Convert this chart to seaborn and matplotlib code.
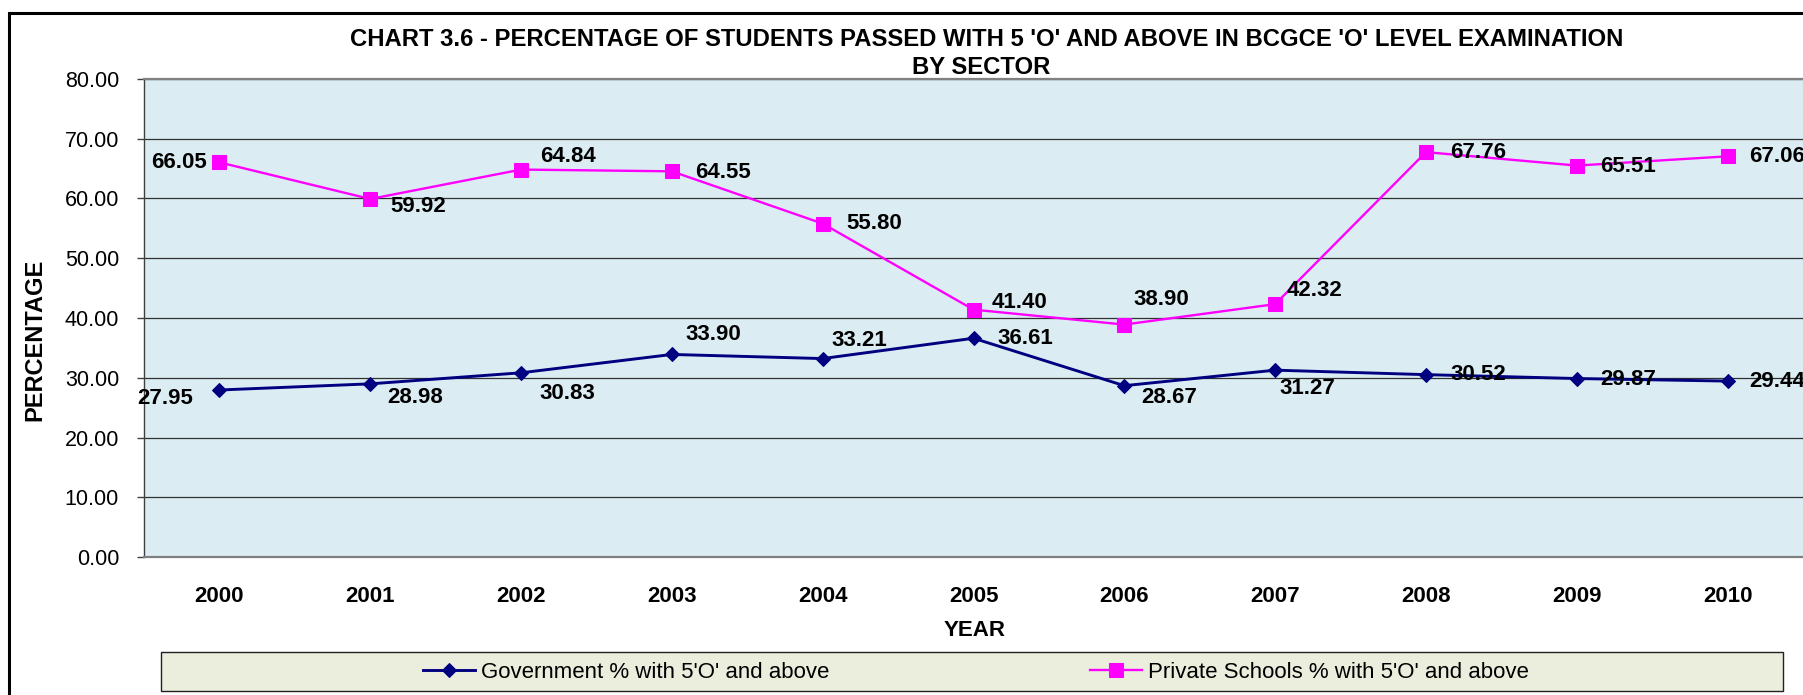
import matplotlib
matplotlib.use("Agg")
import matplotlib.pyplot as plt
import matplotlib.patches as mpatches
import seaborn as sns
import pandas as pd

plt.rcParams['font.family'] = ['Liberation Sans', 'DejaVu Sans']

# ---------------- data ----------------
years = [2000, 2001, 2002, 2003, 2004, 2005, 2006, 2007, 2008, 2009, 2010]
government = [27.95, 28.98, 30.83, 33.90, 33.21, 36.61, 28.67, 31.27, 30.52, 29.87, 29.44]
private = [66.05, 59.92, 64.84, 64.55, 55.80, 41.40, 38.90, 42.32, 67.76, 65.51, 67.06]
gov_label = "Government % with 5'O' and above"
priv_label = "Private Schools % with 5'O' and above"
title_line1 = "CHART 3.6 - PERCENTAGE OF STUDENTS PASSED WITH 5 'O' AND ABOVE IN BCGCE 'O' LEVEL EXAMINATION"
title_line2 = "BY SECTOR"
y_ticks = [0, 10, 20, 30, 40, 50, 60, 70, 80]

# label placement (pixel offsets: dx right, dy down) -- styling only
gov_offsets = [(-26, 9), (17, 14), (18, 21), (14, -20), (9, -18), (24, 0),
               (17, 12), (4, 18), (24, 0), (23, 1), (22, 0)]
priv_offsets = [(-13, 0), (20, 8), (19, -13), (23, 1), (24, 0), (18, -7),
                (9, -25), (11, -14), (24, 0), (23, 1), (22, 0)]

W, H = 1803, 695
fig = plt.figure(figsize=(W / 100, H / 100), dpi=100)
fig.patch.set_facecolor('white')

ax_l, ax_r, ax_t, ax_b = 144, 1803, 79, 557
ax = fig.add_axes([ax_l / W, (H - ax_b) / H, (ax_r - ax_l) / W, (ax_b - ax_t) / H])
ax.set_facecolor('#DBEDF3')

df = pd.DataFrame({'year': years, 'gov': government, 'priv': private})

sns.lineplot(data=df, x='year', y='gov', ax=ax, color='#000080', linewidth=2.1,
             marker='D', markersize=7, markeredgecolor='#000080',
             markerfacecolor='#000080', label=gov_label, zorder=4)
sns.lineplot(data=df, x='year', y='priv', ax=ax, color='#FF00FF', linewidth=1.7,
             marker='s', markersize=10.5, markeredgecolor='#FF00FF',
             markerfacecolor='#FF00FF', label=priv_label, zorder=4)

ax.set_xlim(years[0] - 0.5, years[-1] + 0.5)
ax.set_ylim(0, 80)
ax.set_yticks(y_ticks)
ax.set_yticklabels([f"{v:.2f}" for v in y_ticks], fontsize=15.5)
ax.set_xticks(years)
ax.set_xticklabels([str(y) for y in years], fontsize=16, fontweight='bold')
ax.tick_params(axis='y', direction='out', length=5, width=1, color='#404040', pad=13)
ax.tick_params(axis='x', length=0, pad=21)

ax.grid(axis='y', color='#303030', linewidth=0.9)
ax.grid(axis='x', visible=False)
ax.set_axisbelow(True)

for s in ['top', 'bottom']:
    ax.spines[s].set_color('#808080')
    ax.spines[s].set_linewidth(1.6)
ax.spines['left'].set_color('#404040')
ax.spines['left'].set_linewidth(1.0)
ax.spines['right'].set_visible(False)

ax.set_xlabel('YEAR', fontsize=16, fontweight='bold')
ax.xaxis.set_label_coords((975 - ax_l) / (ax_r - ax_l), (ax_b - 620) / (ax_b - ax_t))
ax.set_ylabel('PERCENTAGE', fontsize=17, fontweight='bold')
ax.yaxis.set_label_coords((46 - ax_l) / (ax_r - ax_l), (ax_b - 340) / (ax_b - ax_t))

# data labels
for yr, v, (dx, dy) in zip(years, government, gov_offsets):
    ax.annotate(f"{v:.2f}", (yr, v), xytext=(dx, -dy), textcoords='offset pixels',
                ha='right' if dx < 0 else 'left', va='center',
                fontsize=16, fontweight='bold', zorder=5)
for yr, v, (dx, dy) in zip(years, private, priv_offsets):
    ax.annotate(f"{v:.2f}", (yr, v), xytext=(dx, -dy), textcoords='offset pixels',
                ha='right' if dx < 0 else 'left', va='center',
                fontsize=16, fontweight='bold', zorder=5)

# title
fig.text(987 / W, 1 - 40 / H, title_line1, ha='center', va='center',
         fontsize=17.2, fontweight='bold')
fig.text(981 / W, 1 - 68 / H, title_line2, ha='center', va='center',
         fontsize=17.2, fontweight='bold')

# legend
handles, labels = ax.get_legend_handles_labels()
ax.get_legend().remove()
legend_box = mpatches.Rectangle((161 / W, (H - 691) / H), (1783 - 161) / W, (691 - 652) / H,
                                transform=fig.transFigure, facecolor='#EBEEDD',
                                edgecolor='#202020', linewidth=1.0, zorder=1)
fig.add_artist(legend_box)
leg = fig.legend(handles, labels, loc='center', bbox_to_anchor=(976 / W, 1 - 672 / H),
                 ncol=2, frameon=False, fontsize=16, handlelength=2.34,
                 handletextpad=0.27, columnspacing=11.7)
leg.set_zorder(3)

# outer chart border
border = mpatches.Rectangle((9 / W, -0.5), 2.0, 0.5 + 1 - 12.5 / H,
                            transform=fig.transFigure, fill=False,
                            edgecolor='black', linewidth=2.2, clip_on=False)
fig.add_artist(border)

fig.savefig('out.png', dpi=100)
